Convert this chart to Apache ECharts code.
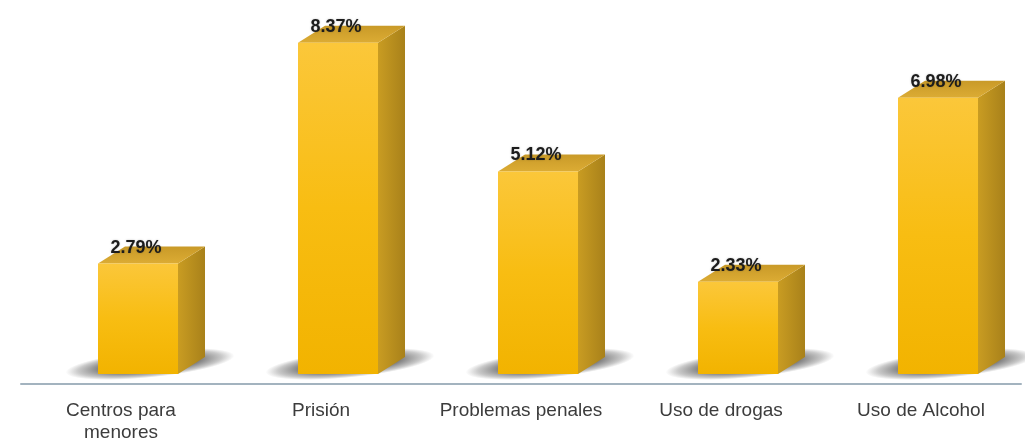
<!DOCTYPE html>
<html>
<head>
<meta charset="utf-8">
<script src="https://cdn.jsdelivr.net/npm/echarts@6/dist/echarts.min.js"></script>
<style>
  html, body { margin: 0; padding: 0; background: #ffffff; }
  #chart { width: 1025px; height: 440px; }
</style>
</head>
<body>
<div id="chart"></div>
<script>
// Categories and percentages
const categories = ['Centros para\nmenores', 'Prisión', 'Problemas penales', 'Uso de drogas', 'Uso de Alcohol'];
const values = [2.79, 8.37, 5.12, 2.33, 6.98];

const chart = echarts.init(document.getElementById('chart'), null, { renderer: 'canvas' });

// Extrusion depth of each box (px)
const DX = 27, DY = 17;

function renderBar(params, api) {
  const idx = api.value(0);
  const v = api.value(1);
  const topPt = api.coord([idx, v]);
  const basePt = api.coord([idx, 0]);
  const band = api.size([1, 0])[0];
  const w = band * 0.4;
  const cx = topPt[0] + band * 0.085;
  const fl = cx - w / 2, fr = cx + w / 2;
  const ty = topPt[1], by = basePt[1];

  // soft floor shadow, slanted towards the back right
  const shadow = {
    type: 'circle',
    shape: { cx: 0, cy: 0, r: w * 1.06 },
    x: fl + w * 0.65,
    y: by - 10,
    scaleY: 0.16,
    rotation: 0.1,
    style: {
      fill: {
        type: 'radial', x: 0.5, y: 0.5, r: 0.5,
        colorStops: [
          { offset: 0, color: 'rgba(10,10,10,0.85)' },
          { offset: 0.55, color: 'rgba(20,20,20,0.6)' },
          { offset: 0.85, color: 'rgba(40,40,40,0.25)' },
          { offset: 1, color: 'rgba(60,60,60,0)' }
        ]
      }
    }
  };

  const side = {
    type: 'polygon',
    shape: { points: [[fr, ty], [fr + DX, ty - DY], [fr + DX, by - DY], [fr, by]] },
    style: {
      fill: {
        type: 'linear', x: 0, y: 0, x2: 1, y2: 0,
        colorStops: [
          { offset: 0, color: '#c99c22' },
          { offset: 1, color: '#a8811a' }
        ]
      }
    }
  };

  const topFace = {
    type: 'polygon',
    shape: { points: [[fl, ty], [fl + DX, ty - DY], [fr + DX, ty - DY], [fr, ty]] },
    style: {
      fill: {
        type: 'linear', x: 0, y: 1, x2: 0, y2: 0,
        colorStops: [
          { offset: 0, color: '#dcac34' },
          { offset: 1, color: '#c99a28' }
        ]
      }
    }
  };

  const front = {
    type: 'rect',
    shape: { x: fl, y: ty, width: w, height: by - ty },
    style: {
      fill: {
        type: 'linear', x: 0, y: 0, x2: 0, y2: 1,
        colorStops: [
          { offset: 0, color: '#fbc73a' },
          { offset: 0.5, color: '#f8bd12' },
          { offset: 1, color: '#f2b300' }
        ]
      }
    }
  };

  const label = {
    type: 'text',
    x: cx - 2,
    y: ty - 16,
    style: {
      text: v.toFixed(2) + '%',
      align: 'center',
      verticalAlign: 'middle',
      font: 'bold 18px "Liberation Sans", Arial, sans-serif',
      fill: '#1c1c1c',
      textShadowColor: 'rgba(0,0,0,0.25)',
      textShadowBlur: 2
    }
  };

  return { type: 'group', children: [shadow, side, topFace, front, label] };
}

chart.setOption({
  backgroundColor: '#ffffff',
  animation: false,
  grid: { left: 21, right: 4, top: 10, bottom: 66, outerBoundsMode: 'none', containLabel: false },
  xAxis: {
    type: 'category',
    data: categories,
    offset: 10,
    axisLine: { onZero: false, lineStyle: { color: '#a3b3bf', width: 2 } },
    axisTick: { show: false },
    axisLabel: {
      interval: 0,
      color: '#3c3c3c',
      fontSize: 19,
      fontFamily: '"Liberation Sans", Arial, sans-serif',
      margin: 16,
      lineHeight: 22
    }
  },
  yAxis: { type: 'value', min: 0, max: 9.2, show: false },
  series: [{
    type: 'custom',
    clip: false,
    renderItem: renderBar,
    data: values.map((v, i) => [i, v])
  }]
});
</script>
</body>
</html>
